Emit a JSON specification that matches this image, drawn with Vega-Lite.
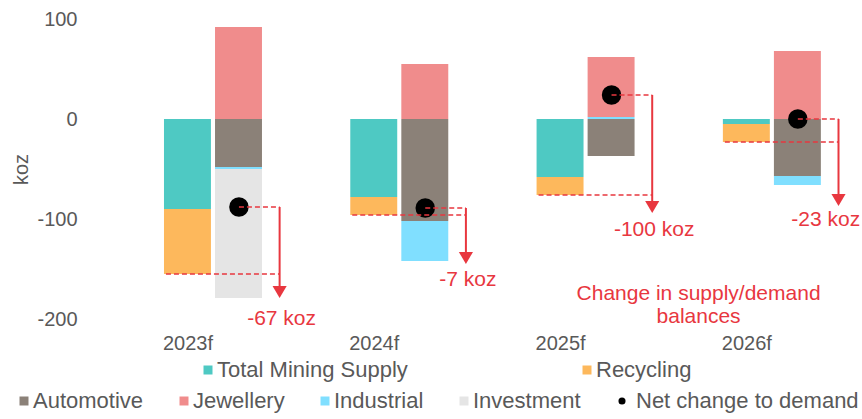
{
  "$schema": "https://vega.github.io/schema/vega-lite/v6.json",
  "width": 757,
  "height": 300,
  "autosize": {"type": "none"},
  "padding": {"left": 93, "top": 19, "right": 12, "bottom": 100},
  "background": "white",
  "config": {
    "view": {"stroke": null},
    "font": "Liberation Sans",
    "legend": {"title": null, "padding": 0, "labelFont": "Liberation Sans", "labelFontSize": 22, "labelColor": "#595959", "labelOffset": -2, "symbolStrokeWidth": 0, "labelLimit": 400}
  },
  "datasets": {
    "supply": [
      {"year": "2023f", "side": "Supply", "component": "Total Mining Supply", "value": -90},
      {"year": "2023f", "side": "Supply", "component": "Recycling", "value": -65},
      {"year": "2024f", "side": "Supply", "component": "Total Mining Supply", "value": -78},
      {"year": "2024f", "side": "Supply", "component": "Recycling", "value": -18},
      {"year": "2025f", "side": "Supply", "component": "Total Mining Supply", "value": -58},
      {"year": "2025f", "side": "Supply", "component": "Recycling", "value": -18},
      {"year": "2026f", "side": "Supply", "component": "Total Mining Supply", "value": -5},
      {"year": "2026f", "side": "Supply", "component": "Recycling", "value": -18}
    ],
    "demand": [
      {"year": "2023f", "side": "Demand", "component": "Automotive", "value": -48},
      {"year": "2023f", "side": "Demand", "component": "Jewellery", "value": 92},
      {"year": "2023f", "side": "Demand", "component": "Industrial", "value": -2},
      {"year": "2023f", "side": "Demand", "component": "Investment", "value": -129},
      {"year": "2024f", "side": "Demand", "component": "Automotive", "value": -102},
      {"year": "2024f", "side": "Demand", "component": "Jewellery", "value": 55},
      {"year": "2024f", "side": "Demand", "component": "Industrial", "value": -40},
      {"year": "2025f", "side": "Demand", "component": "Automotive", "value": -37},
      {"year": "2025f", "side": "Demand", "component": "Jewellery", "value": 60},
      {"year": "2025f", "side": "Demand", "component": "Industrial", "value": 2},
      {"year": "2026f", "side": "Demand", "component": "Automotive", "value": -57},
      {"year": "2026f", "side": "Demand", "component": "Jewellery", "value": 68},
      {"year": "2026f", "side": "Demand", "component": "Industrial", "value": -9}
    ],
    "net": [
      {"year": "2023f", "net": -88, "supplyTotal": -155, "arrowEnd": -173, "balance": "-67 koz", "labelY": -200},
      {"year": "2024f", "net": -89, "supplyTotal": -96, "arrowEnd": -139, "balance": "-7 koz", "labelY": -161},
      {"year": "2025f", "net": 24, "supplyTotal": -76, "arrowEnd": -88, "balance": "-100 koz", "labelY": -111},
      {"year": "2026f", "net": 0, "supplyTotal": -23, "arrowEnd": -81, "balance": "-23 koz", "labelY": -101}
    ],
    "note": [
      {"year": "2025f", "y": -164, "text": ["Change in supply/demand", "balances"]}
    ]
  },
  "layer": [
    {
      "mark": {"type": "rule", "color": "#D9D9D9", "strokeWidth": 2},
      "encoding": {"y": {"datum": 0, "type": "quantitative", "title": "koz"}}
    },
    {
      "data": {"name": "supply"},
      "mark": {"type": "bar"},
      "encoding": {
        "x": {
          "field": "year", "type": "nominal", "title": null,
          "scale": {"type": "band", "paddingInner": 0.474, "paddingOuter": 0.2687, "align": 0.709},
          "axis": {"labelAngle": 0, "labelOffset": -25, "labelPadding": 14, "labelFontSize": 20, "labelColor": "#595959", "labelFont": "Liberation Sans", "domain": false, "ticks": false, "grid": false}
        },
        "xOffset": {"field": "side", "type": "nominal", "scale": {"domain": ["Supply", "Demand"], "paddingInner": 0.08, "paddingOuter": 0}},
        "y": {
          "field": "value", "type": "quantitative", "title": "koz",
          "scale": {"domain": [-200, 100], "nice": false, "zero": false},
          "axis": {"values": [100, 0, -100, -200], "labelExpr": "'' + datum.value", "domain": false, "ticks": false, "grid": false, "labelFontSize": 20, "labelColor": "#595959", "labelFont": "Liberation Sans", "labelPadding": 16, "titleFontSize": 20, "titleFontWeight": "normal", "titleColor": "#595959", "titleFont": "Liberation Sans", "titlePadding": 5}
        },
        "order": {"field": "component", "sort": "descending"},
        "color": {
          "field": "component", "type": "nominal",
          "sort": ["Total Mining Supply", "Recycling"],
          "scale": {"domain": ["Total Mining Supply", "Recycling"], "range": ["#4EC9C3", "#FDB85C"]},
          "legend": {"orient": "none", "legendX": 104, "legendY": 340, "direction": "horizontal", "columnPadding": 168, "symbolType": "square", "symbolSize": 81}
        }
      }
    },
    {
      "data": {"name": "demand"},
      "mark": {"type": "bar"},
      "encoding": {
        "x": {"field": "year", "type": "nominal", "title": null},
        "xOffset": {"field": "side", "type": "nominal"},
        "y": {"field": "value", "type": "quantitative", "title": "koz"},
        "order": {"field": "component", "sort": "ascending"},
        "color": {
          "field": "component", "type": "nominal",
          "sort": ["Automotive", "Jewellery", "Industrial", "Investment"],
          "scale": {"domain": ["Automotive", "Jewellery", "Industrial", "Investment"], "range": ["#8B8178", "#F08C8C", "#80DFFF", "#E5E5E5"]},
          "legend": {"orient": "none", "legendX": -80, "legendY": 371, "direction": "horizontal", "columnPadding": 29, "symbolType": "square", "symbolSize": 81}
        }
      }
    },
    {
      "data": {"name": "net"},
      "mark": {"type": "point", "filled": true, "opacity": 1, "size": 380, "shape": "circle"},
      "encoding": {
        "x": {"field": "year", "type": "nominal", "title": null, "bandPosition": 0.765},
        "y": {"field": "net", "type": "quantitative", "title": "koz"},
        "color": {
          "datum": "Net change to demand",
          "scale": {"domain": ["Net change to demand"], "range": ["#000000"]},
          "legend": {"orient": "none", "legendX": 518, "legendY": 371, "direction": "horizontal", "symbolType": "circle", "symbolSize": 50, "labelOffset": 3}
        }
      }
    },
    {
      "data": {"name": "net"},
      "mark": {"type": "rule", "color": "#E8373F", "strokeWidth": 1.5, "strokeDash": [5, 3]},
      "encoding": {
        "x": {"field": "year", "type": "nominal", "title": null, "bandPosition": 0.765},
        "x2": {"field": "year", "bandPosition": 1.18},
        "y": {"field": "net", "type": "quantitative", "title": "koz"}
      }
    },
    {
      "data": {"name": "net"},
      "mark": {"type": "rule", "color": "#E8373F", "strokeWidth": 1.5, "strokeDash": [5, 3]},
      "encoding": {
        "x": {"field": "year", "type": "nominal", "title": null, "bandPosition": 0.02},
        "x2": {"field": "year", "bandPosition": 1.18},
        "y": {"field": "supplyTotal", "type": "quantitative", "title": "koz"}
      }
    },
    {
      "data": {"name": "net"},
      "mark": {"type": "rule", "color": "#E8373F", "strokeWidth": 2},
      "encoding": {
        "x": {"field": "year", "type": "nominal", "title": null, "bandPosition": 1.18},
        "y": {"field": "net", "type": "quantitative", "title": "koz"},
        "y2": {"field": "arrowEnd"}
      }
    },
    {
      "data": {"name": "net"},
      "mark": {"type": "point", "shape": "triangle-down", "filled": true, "opacity": 1, "size": 200, "color": "#E8373F"},
      "encoding": {
        "x": {"field": "year", "type": "nominal", "title": null, "bandPosition": 1.18},
        "y": {"field": "arrowEnd", "type": "quantitative", "title": "koz"}
      }
    },
    {
      "data": {"name": "net"},
      "transform": [{"filter": "datum.year !== '2026f'"}],
      "mark": {"type": "text", "color": "#E8373F", "fontSize": 21, "font": "Liberation Sans", "align": "center", "baseline": "middle"},
      "encoding": {
        "x": {"field": "year", "type": "nominal", "title": null, "bandPosition": 1.2},
        "y": {"field": "labelY", "type": "quantitative", "title": "koz"},
        "text": {"field": "balance"}
      }
    },
    {
      "data": {"name": "net"},
      "transform": [{"filter": "datum.year === '2026f'"}],
      "mark": {"type": "text", "color": "#E8373F", "fontSize": 21, "font": "Liberation Sans", "align": "center", "baseline": "middle"},
      "encoding": {
        "x": {"field": "year", "type": "nominal", "title": null, "bandPosition": 1.05},
        "y": {"field": "labelY", "type": "quantitative", "title": "koz"},
        "text": {"field": "balance"}
      }
    },
    {
      "data": {"name": "note"},
      "mark": {"type": "text", "color": "#E8373F", "fontSize": 21, "font": "Liberation Sans", "align": "center", "baseline": "top", "lineHeight": 23},
      "encoding": {
        "x": {"field": "year", "type": "nominal", "title": null, "bandPosition": 1.653},
        "y": {"field": "y", "type": "quantitative", "title": "koz"},
        "text": {"field": "text"}
      }
    }
  ],
  "resolve": {"scale": {"color": "independent"}, "legend": {"color": "independent"}}
}
